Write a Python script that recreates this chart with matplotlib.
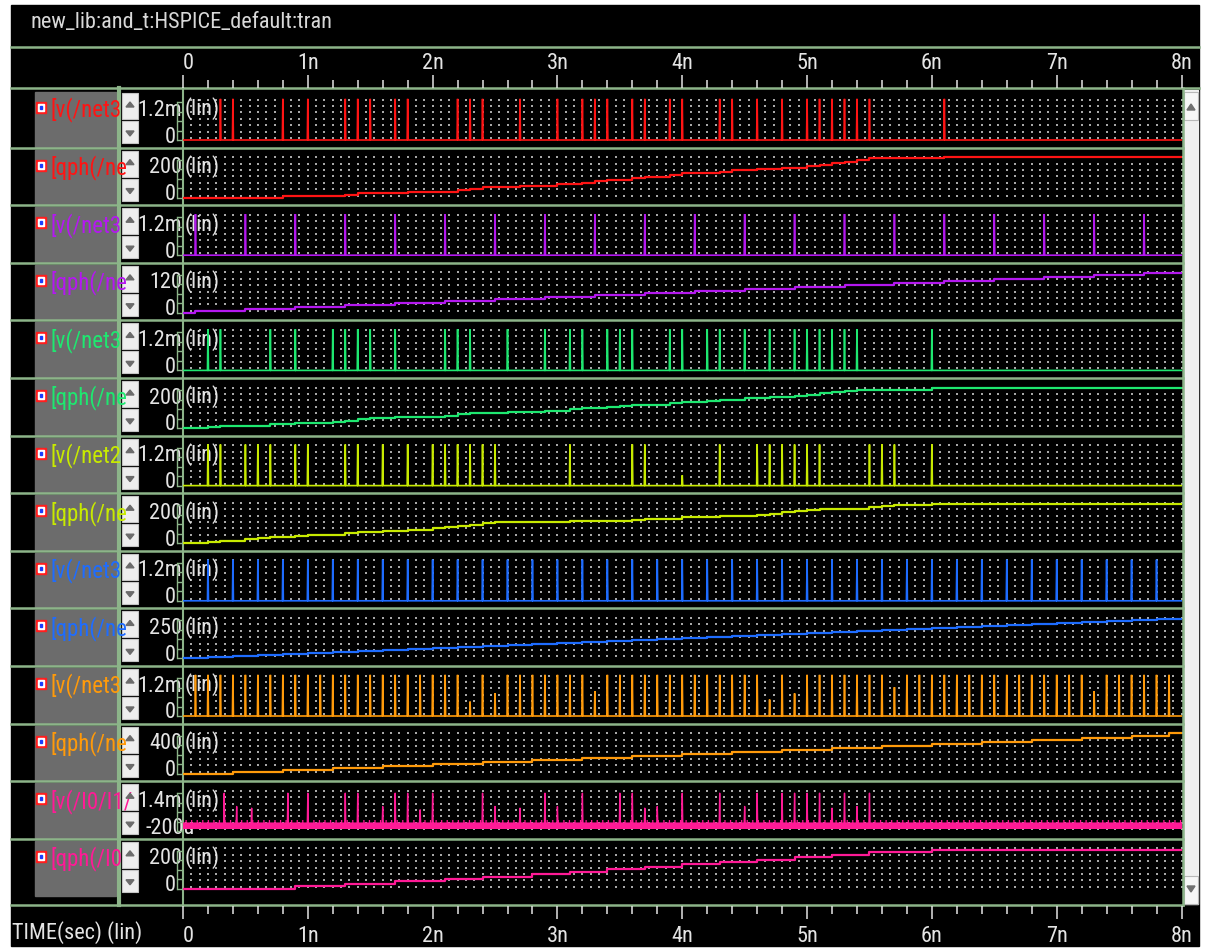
import matplotlib
matplotlib.use("Agg")
import matplotlib.pyplot as plt
from matplotlib import font_manager
from matplotlib.patches import Rectangle, Polygon

W, H = 1208, 949
X0, X1 = 183.0, 1181.5          # pixel span of 0 .. 8n
T_END = 8.0


def pick_font():
    """Narrow face for the waveform-viewer look; Roboto if none is around."""
    fl = font_manager.fontManager.ttflist
    names = {f.name for f in fl}
    for cand in ('Liberation Sans Narrow', 'Roboto Condensed', 'DejaVu Sans Condensed'):
        if cand in names:
            return cand, 'normal', 16
    if any(f.name == 'DejaVu Sans' and f.stretch == 'condensed' for f in fl):
        return 'DejaVu Sans', 'condensed', 14.5
    return 'Roboto', 'normal', 13.8


FONT, STRETCH, FS = pick_font()
plt.rcParams['font.family'] = [FONT, 'DejaVu Sans']
plt.rcParams['font.stretch'] = STRETCH
plt.rcParams['hatch.linewidth'] = 0.9

# === waveform data (times in ns) ===
red_spikes = [0.3, 0.4, 0.8, 1.0, 1.3, 1.4, 1.5, 1.7, 1.8, 2.2, 2.3, 2.4, 2.7, 3.0, 3.2, 3.3,
              3.4, 3.6, 3.7, 3.9, 4.0, 4.3, 4.4, 4.6, 4.8, 5.0, 5.1, 5.2, 5.3, 5.4, 5.5, 6.1]
red_qph_t = [0.8, 1.3, 1.4, 1.8, 2.2, 2.3, 2.4, 2.7, 3.0, 3.2, 3.3, 3.4, 3.6, 3.7, 3.9, 4.0,
             4.3, 4.4, 4.6, 4.8, 5.0, 5.1, 5.2, 5.3, 5.4, 5.5, 6.1]
red_qph_v = [8, 16, 24, 32, 40, 47, 55, 63, 71, 79, 87, 95, 103, 111, 119, 127,
             135, 143, 150, 158, 166, 174, 182, 190, 198, 206, 214]

purple_spikes = [0.1, 0.5, 0.9, 1.3, 1.7, 2.1, 2.5, 2.9, 3.3, 3.7, 4.1, 4.5, 4.9, 5.3,
                 5.7, 6.1, 6.5, 6.9, 7.3, 7.7]
purple_qph_t = [0.1, 0.5, 0.9, 1.3, 1.7, 2.1, 2.5, 2.9, 3.3, 3.7, 4.1, 4.5, 4.9, 5.3,
                5.7, 6.1, 6.5, 6.9, 7.3, 7.7]
purple_qph_v = [6.3, 12.6, 18.8, 25.1, 31.4, 37.7, 44.0, 50.3, 56.5, 62.8, 69.1, 75.4,
                81.7, 88.0, 94.2, 100.5, 106.8, 113.1, 119.4, 125.7]

green_spikes = [0.2, 0.3, 0.7, 0.9, 1.2, 1.3, 1.4, 1.5, 1.7, 2.1, 2.2, 2.3, 2.6, 2.9, 3.1, 3.2,
                3.4, 3.5, 3.6, 3.9, 4.0, 4.2, 4.3, 4.5, 4.7, 4.9, 5.0, 5.1, 5.2, 5.3, 5.4, 6.0]
green_qph_t = green_spikes
green_qph_v = [6.5, 13, 19.5, 26, 32.5, 39, 45.5, 52, 58.5, 65, 71.5, 78, 84.5, 91, 97.5, 104,
               110.5, 117, 123.5, 130, 136.5, 143, 149.5, 156, 162.5, 169, 175.5, 182, 188.5,
               195, 201.5, 208]

yellow_spikes = [0.2, 0.3, 0.5, 0.6, 0.7, 0.9, 1.0, 1.3, 1.4, 1.6, 1.8, 2.0, 2.1, 2.2, 2.3, 2.4,
                 2.5, 3.1, 3.6, 3.7, 4.0, 4.3, 4.6, 4.7, 4.8, 4.9, 5.0, 5.1, 5.5, 5.6, 5.7, 6.0]
yellow_short = {4.0: 0.25}
yellow_qph_t = yellow_spikes
yellow_qph_v = green_qph_v

blue_spikes = [0.2, 0.4, 0.6, 0.8, 1.0, 1.2, 1.4, 1.6, 1.8, 2.0, 2.2, 2.4, 2.6, 2.8, 3.0, 3.2,
               3.4, 3.6, 3.8, 4.0, 4.2, 4.4, 4.6, 4.8, 5.0, 5.2, 5.4, 5.6, 5.8, 6.0, 6.2, 6.4,
               6.6, 6.8, 7.0, 7.2, 7.4, 7.6, 7.8]
blue_qph_t = blue_spikes
blue_qph_v = [6.7, 13.4, 20.1, 26.8, 33.5, 40.2, 46.9, 53.6, 60.3, 67, 73.7, 80.4, 87.1, 93.8,
              100.5, 107.2, 113.9, 120.6, 127.3, 134, 140.7, 147.4, 154.1, 160.8, 167.5, 174.2,
              180.9, 187.6, 194.3, 201, 207.7, 214.4, 221.1, 227.8, 234.5, 241.2, 247.9,
              254.6, 261.3]

orange_spikes = [0.1, 0.2, 0.3, 0.4, 0.5, 0.6, 0.7, 0.8, 0.9, 1.0, 1.1, 1.2, 1.3, 1.4, 1.5,
                 1.6, 1.7, 1.8, 1.9, 2.0, 2.1, 2.2, 2.3, 2.4, 2.5, 2.6, 2.7, 2.8, 2.9, 3.0,
                 3.1, 3.2, 3.3, 3.4, 3.5, 3.6, 3.7, 3.8, 3.9, 4.0, 4.1, 4.2, 4.3, 4.4, 4.5,
                 4.6, 4.7, 4.8, 4.9, 5.0, 5.1, 5.2, 5.3, 5.4, 5.5, 5.6, 5.7, 5.8, 5.9, 6.0,
                 6.1, 6.2, 6.3, 6.4, 6.5, 6.6, 6.7, 6.8, 6.9, 7.0, 7.1, 7.2, 7.3, 7.4, 7.5,
                 7.6, 7.7, 7.8, 7.9]
orange_short = {2.3: 0.35, 2.5: 0.55, 3.3: 0.6, 4.7: 0.4, 4.9: 0.55, 5.7: 0.7, 7.3: 0.6}
orange_qph_t = [0.4, 0.8, 1.2, 1.6, 2.0, 2.4, 2.8, 3.2, 3.6, 4.0, 4.4, 4.8, 5.2, 5.6, 6.0,
                6.4, 6.8, 7.2, 7.6, 7.9]
orange_qph_v = [21, 42, 63, 84, 105, 126, 147, 168, 189, 210, 231, 252, 273, 294, 315,
                336, 357, 378, 399, 427]

pink_spikes = [0.33, 0.43, 0.55, 0.84, 1.0, 1.3, 1.4, 1.6, 1.7, 1.8, 1.9, 2.0, 2.4, 2.5,
               2.7, 2.9, 3.0, 3.2, 3.5, 3.6, 3.7, 3.8, 4.0, 4.3, 4.5, 4.6, 4.8, 4.9, 5.0,
               5.1, 5.2, 5.3, 5.4, 5.5]
pink_heights = {0.43: 0.6, 0.55: 0.55, 1.6: 0.6, 1.9: 0.5, 2.5: 0.6, 2.7: 0.55, 3.0: 0.6,
                3.7: 0.55, 3.8: 0.6, 4.5: 0.6, 5.2: 0.55, 5.4: 0.6}
pink_band = (-0.12, 0.14)
pink_qph_t = [0.9, 1.3, 1.7, 2.1, 2.4, 2.8, 3.1, 3.4, 3.7, 4.0, 4.3, 4.6, 4.9, 5.2, 5.5, 6.0]
pink_qph_v = [13, 26, 39, 52, 64, 77, 90, 103, 116, 128, 141, 154, 167, 180, 192, 205]

RED, PURPLE, GREEN = '#ff1414', '#b418f0', '#1ee870'
YELLOW, BLUE, ORANGE, PINK = '#c8ea00', '#1e6cff', '#ff9a0a', '#ff1a96'

# name, colour, kind, top label, bottom label, (lo, hi) of the labelled levels, data
strips = [
    ('[v(/net3', RED, 'v', '1.2m', '0', (0, 1.2), red_spikes),
    ('[qph(/ne', RED, 'q', '200', '0', (0, 200), (red_qph_t, red_qph_v)),
    ('[v(/net3', PURPLE, 'v', '1.2m', '0', (0, 1.2), purple_spikes),
    ('[qph(/ne', PURPLE, 'q', '120', '0', (0, 120), (purple_qph_t, purple_qph_v)),
    ('[v(/net3', GREEN, 'v', '1.2m', '0', (0, 1.2), green_spikes),
    ('[qph(/ne', GREEN, 'q', '200', '0', (0, 200), (green_qph_t, green_qph_v)),
    ('[v(/net2', YELLOW, 'v', '1.2m', '0', (0, 1.2), yellow_spikes),
    ('[qph(/ne', YELLOW, 'q', '200', '0', (0, 200), (yellow_qph_t, yellow_qph_v)),
    ('[v(/net3', BLUE, 'v', '1.2m', '0', (0, 1.2), blue_spikes),
    ('[qph(/ne', BLUE, 'q', '250', '0', (0, 250), (blue_qph_t, blue_qph_v)),
    ('[v(/net3', ORANGE, 'v', '1.2m', '0', (0, 1.2), orange_spikes),
    ('[qph(/ne', ORANGE, 'q', '400', '0', (0, 400), (orange_qph_t, orange_qph_v)),
    ('[v(/I0/I1/', PINK, 'p', '1.4m', '-200u', (-0.2, 1.4), pink_spikes),
    ('[qph(/I0', PINK, 'q', '200', '0', (0, 200), (pink_qph_t, pink_qph_v)),
]
short_spikes = {id(orange_spikes): orange_short, id(yellow_spikes): yellow_short}

GRN = '#8cb489'
TXT = '#e4e4e4'
STRIP_TOP, STRIP_H = 90.0, 57.6


def px_rect(x0, y0, x1, y1):
    return [x0 / W, 1 - y1 / H, (x1 - x0) / W, (y1 - y0) / H]


def tx(t):
    return X0 + t / T_END * (X1 - X0)


def spike_trace(times, height, heights=None, base=0.0):
    xs, ys = [0.0], [base]
    for t in times:
        h = heights.get(t, 1.0) * height if heights else height
        xs += [t - 0.004, t, t + 0.004]
        ys += [base, h, base]
    xs.append(T_END)
    ys.append(base)
    return xs, ys


fig = plt.figure(figsize=(W / 100, H / 100), dpi=100, facecolor='white')

# --- window chrome in pixel coordinates ---
bg = fig.add_axes([0, 0, 1, 1])
bg.set_xlim(0, W)
bg.set_ylim(H, 0)
bg.axis('off')
bg.add_patch(Rectangle((11, 5), 1188, 941, color='black', zorder=0))
bg.text(30, 22, 'new_lib:and_t:HSPICE_default:tran', color='#d8d8d8', fontsize=FS,
        va='center', ha='left')
bg.text(12, 933, 'TIME(sec) (lin)', color=TXT, fontsize=FS, va='center', ha='left')

for y in (47, 88, 905):
    bg.plot([11, 1199 if y != 905 else 1183], [y, y], color=GRN, lw=1.8, zorder=3)
bg.plot([119, 119], [88, 905], color=GRN, lw=3.0, zorder=3)
bg.plot([182.5, 182.5], [88, 905], color=GRN, lw=1.5, zorder=3)
bg.plot([1182.5, 1182.5], [88, 905], color=GRN, lw=1.8, zorder=3)

# right-hand scrollbar
bg.add_patch(Rectangle((1184, 90), 14, 814, color='#f0f0f0', zorder=2))
bg.add_patch(Rectangle((1184, 92), 14, 28, facecolor='#f6f6f6', edgecolor='#b8b8b8', lw=0.8, zorder=2))
bg.add_patch(Rectangle((1184, 876), 14, 28, facecolor='#f6f6f6', edgecolor='#b8b8b8', lw=0.8, zorder=2))
bg.add_patch(Polygon([[1187, 110], [1195, 110], [1191, 104]], color='#707070', zorder=3))
bg.add_patch(Polygon([[1187, 886], [1195, 886], [1191, 892]], color='#707070', zorder=3))

# dotted background grid of the plot area
dot_x = [tx(k / 15) for k in range(1, 121)]
dot_rows = [9.5, 15.9, 22.3, 28.7, 35.1, 41.5, 47.9]
dx, dy = [], []
for k in range(len(strips)):
    top = STRIP_TOP + k * STRIP_H
    for r in dot_rows:
        dx += dot_x
        dy += [top + r] * len(dot_x)
bg.scatter(dx, dy, s=0.8, marker='s', color='#a8a8a8', linewidths=0, zorder=1)

for k, (name, col, kind, top_lab, bot_lab, (lo, hi), data) in enumerate(strips):
    top = STRIP_TOP + k * STRIP_H
    # label panel
    bg.add_patch(Rectangle((35, top + 2), 81, 55, color='#6c6c6c', zorder=1))
    bg.add_patch(Rectangle((36, top + 12), 10, 11, color='#ff1e1e', zorder=2))
    bg.add_patch(Rectangle((38, top + 14), 5.5, 7, color='white', zorder=3))
    bg.add_patch(Rectangle((39.5, top + 16), 2.5, 3, color='#1a3cff', zorder=4))
    nm = bg.text(50, top + 20, name, color=col, fontsize=FS + 0.5, va='center', ha='left', zorder=3)
    nm.set_clip_path(Rectangle((35, top), 81, 58, transform=bg.transData))
    # scroll buttons
    bg.add_patch(Rectangle((122, top + 3), 16, 26, facecolor='#eeeeee', edgecolor='#c4c4c4', lw=0.8, zorder=2))
    bg.add_patch(Rectangle((122, top + 31), 16, 22, facecolor='#eeeeee', edgecolor='#c4c4c4', lw=0.8, zorder=2))
    bg.add_patch(Polygon([[126, top + 17], [134, top + 17], [130, top + 12]], color='#6c6c6c', zorder=3))
    bg.add_patch(Polygon([[126, top + 41], [134, top + 41], [130, top + 46]], color='#6c6c6c', zorder=3))
    # axis labels
    bg.text(182, top + 20, top_lab, color=TXT, fontsize=FS, va='center', ha='right', zorder=3)
    lb = bg.text(176 if bot_lab == '0' else 145, top + 47, bot_lab, color=TXT, fontsize=FS,
                 va='center', ha='right' if bot_lab == '0' else 'left', zorder=3)
    lb.set_clip_path(Rectangle((130, top), 56, 58, transform=bg.transData))
    bg.plot([176.5, 176.5], [top + 12, top + 50], color=GRN, lw=1.0, zorder=3)
    bg.text(185, top + 19, '(lin)', color=TXT, fontsize=FS, va='center', ha='left', zorder=3)
    if k > 0:
        bg.plot([11, 1183], [top, top], color=GRN, lw=1.8, zorder=3)

    # the waveform itself
    ax = fig.add_axes(px_rect(X0, top + 2, X1, top + 56))
    span = hi - lo
    ax.set_xlim(0, T_END)
    ax.set_ylim(lo - 6 / 38 * span, hi + 10 / 38 * span)
    ax.set_facecolor('none')
    for s in ax.spines.values():
        s.set_visible(False)
    ax.set_xticks([])
    ax.set_yticks([lo + i * span / 4 for i in range(5)])
    ax.tick_params(axis='y', direction='out', length=4.3, width=1.0, color=GRN,
                   labelleft=False)
    if kind == 'v':
        xs, ys = spike_trace(data, 1.3, short_spikes.get(id(data)))
        ax.plot(xs, ys, color=col, lw=1.2, solid_joinstyle='miter')
    elif kind == 'p':
        # noisy band around zero with fine ripple on its upper edge
        ax.fill_between([0, T_END], pink_band[0], pink_band[1], color=col, lw=0)
        ax.fill_between([0, T_END], pink_band[1], pink_band[1] + 0.12, facecolor='none',
                        edgecolor=col, hatch='|||', lw=0)
        xs, ys = spike_trace(data, 1.4, pink_heights, base=pink_band[1])
        ax.plot(xs, ys, color=col, lw=1.0)
    else:
        ts, vs = data
        ax.step([0] + list(ts) + [T_END], [0] + list(vs) + [vs[-1]], where='post',
                color=col, lw=1.6)

# --- time axes above and below the strips ---
labels = ['0'] + ['%dn' % i for i in range(1, 9)]
for y0, y1, top_side in ((75, 88, True), (906, 920, False)):
    ta = fig.add_axes(px_rect(X0, y0, X1, y1))
    ta.set_xlim(0, T_END)
    ta.set_facecolor('none')
    for s in ta.spines.values():
        s.set_visible(False)
    ta.set_yticks([])
    ta.set_xticks(range(9))
    ta.set_xticklabels(labels)
    ta.set_xticks([i * 0.2 for i in range(41)], minor=True)
    ta.tick_params(axis='x', which='both', direction='in', colors=TXT, width=1.1,
                   bottom=top_side, top=not top_side,
                   labelbottom=not top_side, labeltop=top_side, labelsize=FS, pad=1 if top_side else 4)
    ta.tick_params(axis='x', which='major', length=9.4)
    ta.tick_params(axis='x', which='minor', length=5.5)
    tl = ta.get_xticklabels()
    tl[0].set_horizontalalignment('left')

fig.savefig('out.png', dpi=100, facecolor='white')
